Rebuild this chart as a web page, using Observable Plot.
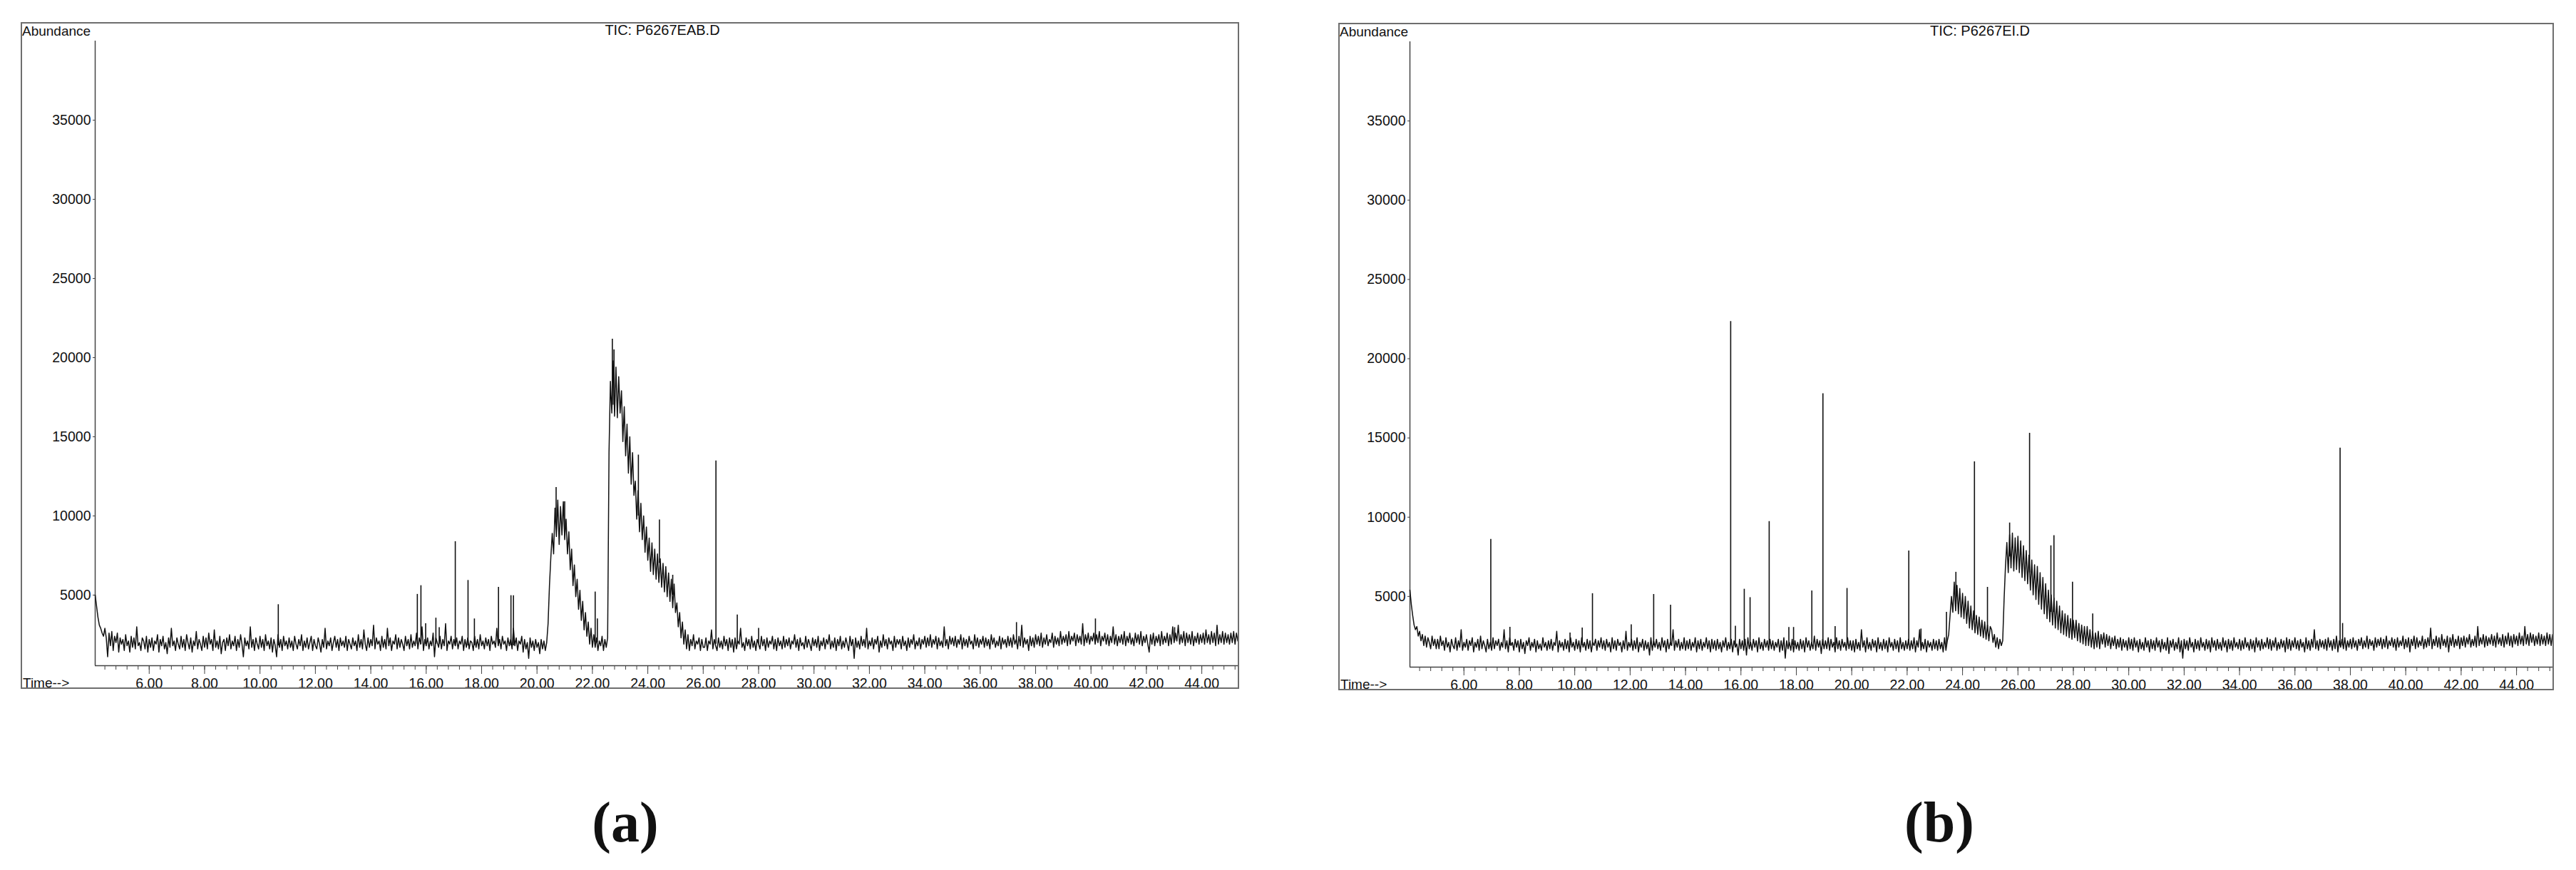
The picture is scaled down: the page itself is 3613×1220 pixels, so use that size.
<!DOCTYPE html>
<html>
<head>
<meta charset="utf-8">
<script src="https://cdn.jsdelivr.net/npm/d3@7"></script>
<script src="https://cdn.jsdelivr.net/npm/@observablehq/plot@0.6"></script>
<style>
  html, body { margin: 0; padding: 0; background: #fff; }
  body { width: 3613px; height: 1220px; position: relative; overflow: hidden;
         font-family: "Liberation Sans", Arial, sans-serif; color: #111; }
  .frame { position: absolute; box-sizing: border-box; border: 2px solid #6e6e6e; }
  .host { position: absolute; }
  .lbl { position: absolute; white-space: nowrap; line-height: 1; }
  .cap { position: absolute; width: 400px; text-align: center; line-height: 1;
         font-family: "Liberation Serif", "Times New Roman", serif; font-weight: bold; font-size: 80px; }
</style>
</head>
<body>
<script>
// ---------------- data ----------------
// sampling grid of the traces (minutes)
const sampleStart = 4.05;
const sampleStep = 0.05;

// x / y axes
const xDomain = [4.05, 45.31];
const yDomain = [540, 40000];
const majorTicks = [6, 8, 10, 12, 14, 16, 18, 20, 22, 24, 26, 28, 30, 32, 34, 36, 38, 40, 42, 44];
const yTicks = [5000, 10000, 15000, 20000, 25000, 30000, 35000];

// Panel (a): TIC: P6267EAB.D – abundance every 0.05 min from 4.05 (one row per minute)
const traceA = [
  5000,4300,3600,3100,2900,2600,2400,2900,2300,1100,2600,1800,2700,1500,2400,2000,2600,1400,2300,1900,
  2200,1500,2500,1800,2100,1400,2400,1700,2300,1600,3000,1800,2000,1500,2300,2100,1600,2400,1400,2200,
  1700,2300,1500,2100,1900,2500,1400,2200,1800,2400,1600,2000,1300,2300,1700,2900,1800,2100,1500,2300,
  1900,1600,2400,1700,2200,1500,2500,2000,1600,2300,1400,2100,1800,2700,1600,2200,1900,1500,2400,1700,
  2300,1600,2600,1900,2200,1500,2800,1700,2100,1600,2400,1300,2000,2200,1500,2300,1800,2500,1600,2100,
  1800,2400,1500,2200,1700,2500,1900,1100,2300,1800,2100,1600,3000,1700,2200,1500,2300,1900,1600,2400,
  1700,2200,1500,2500,1800,2100,1600,2300,1400,2200,1800,1100,2500,1700,2200,1500,2400,1800,2100,1600,
  2300,1700,2100,1500,2400,1900,1600,2200,1800,2500,1500,2100,1700,2300,1600,2000,2400,1500,2200,1800,
  1600,2300,1900,1400,2200,1700,2900,1600,2100,1800,2300,1500,2000,2400,1700,2200,1500,2300,1800,2100,
  1700,2400,1500,2200,1900,1600,2300,1800,2100,1500,2500,1700,2200,1600,2800,1900,1500,2300,1700,2200,
  1800,3100,1600,2300,1900,2100,1500,2400,1700,2200,1600,2900,1800,2300,1500,2100,1900,2500,1600,2300,
  1700,2200,1900,1500,2400,1800,2200,1600,2500,1700,2100,1800,2600,1600,2300,1900,3000,1500,2200,1800,
  2300,1600,2100,1800,2600,1100,2300,2000,1700,2400,1600,2200,1800,3200,1500,2100,1900,2400,1600,2200,
  1800,2300,1600,2100,1900,2400,1500,2200,1700,2300,1600,2100,2000,1500,2400,1700,2200,1600,2500,1800,
  2100,1600,2300,1800,2200,1500,2400,1900,2100,1700,2900,1800,2200,1600,2400,1900,2100,1500,2300,1800,
  2200,1600,2900,1800,2300,1500,2100,1900,2400,1400,2200,1600,2000,1000,2300,1700,2100,1500,2200,1700,
  2000,1300,2200,1600,2100,1500,2000,3200,5600,7400,8900,7600,10500,8700,11000,8200,10600,8800,10900,8500,
  9800,7600,9000,6600,7900,5600,6900,4900,6000,4100,5300,3400,4600,2800,3900,2400,3300,1900,2900,1700,
  2500,1700,2300,1500,2100,1800,2400,1500,2200,1700,2300,14000,18500,16500,19800,16300,19400,16200,18800,16500,
  17900,14700,16900,13800,15800,12700,15000,12000,14000,11300,12200,9800,11600,9000,10800,8500,10000,7700,9300,7200,
  8600,6500,8300,6300,7900,6000,7600,5800,7300,5500,7000,5200,6800,4900,6400,4600,6000,4200,5700,3900,
  4500,3000,3900,2300,3300,1900,2800,1600,2500,1500,2200,1800,2500,1600,2100,1900,2300,1500,2200,1700,
  1700,2300,1500,2100,1900,2800,1600,2200,1800,1500,2300,1700,2100,1600,2400,1800,2200,1500,2300,1700,
  2200,1400,2300,1600,2100,1900,2900,1700,2000,1500,2300,1800,2200,1600,2400,1700,2100,1500,2200,1900,
  1600,2400,1800,2200,1500,2300,1700,2100,1900,2400,1600,2200,1500,2300,1800,2100,1600,2400,1700,2200,
  1800,2300,1600,2100,1900,2500,1700,2200,1500,2300,1800,2000,1600,2400,1700,2200,1900,1500,2300,1800,
  2200,1700,2400,1500,2100,1800,2300,1600,2200,1900,2500,1600,2100,1700,2300,1500,2200,1800,2400,1600,
  2100,1700,2300,1900,1500,2400,1800,2200,1000,2300,1700,2100,1600,2400,1800,2200,1700,2900,1600,2100,
  1800,2300,1600,2200,1900,2400,1400,2100,1700,2500,1800,2200,1600,2300,1900,2100,1500,2400,1700,2200,
  1900,2200,1600,2400,1800,2100,1500,2300,1700,2200,1900,2500,1600,2100,1800,2300,1600,2200,1900,2400,
  1700,2300,1800,2500,1700,2200,1900,2400,1600,2300,1800,2100,1700,3000,1800,2200,1600,2400,1900,2300,
  1800,2400,1700,2200,1900,2500,1600,2300,1800,2200,1700,2400,1900,2100,1600,2500,1800,2300,1700,2200,
  1900,2400,1700,2300,1800,2200,1600,2500,1900,2300,1700,2100,1800,2400,1600,2300,1900,2200,1700,2400,
  1800,2300,1700,2500,1900,2200,1600,2400,1800,3100,1700,2300,1900,2200,1500,2400,1800,2300,1700,2500,
  1900,2400,1800,2600,1700,2300,1900,2500,1800,2200,2000,2600,1700,2400,1900,2300,1800,2700,1900,2400,
  2000,2500,1800,2700,1900,2400,2100,2600,1800,2500,2000,2400,1900,3200,1800,2500,2000,2600,1900,2400,
  2100,2600,1900,2500,2000,2700,1800,2400,2100,2600,1900,2500,1800,2400,2000,3000,1900,2500,1800,2400,
  2000,2500,1900,2700,1800,2400,2000,2600,1900,2300,1800,2600,2000,2500,1900,2700,1800,2400,2000,2500,
  1900,1400,2500,1900,2600,1800,2400,2000,2500,1800,2700,1900,2400,2000,2600,1800,2500,1900,3000,2000,
  2600,2100,3100,1900,2500,2000,2700,1800,2600,2000,2500,1900,2700,1800,2400,2000,2600,1900,2500,2000,
  2600,1900,2800,2000,2500,1900,2700,2000,2600,1800,3100,1900,2500,2000,2700,1900,2600,2000,2500,1900,
  2600,2000,2700,1900,2600,2100
];
// narrow peaks of panel (a): [time, foot, apex]
const spikesA = [
  [10.66, 1800, 4400], [15.68, 1900, 5050], [15.81, 1900, 5600], [15.98, 1900, 3200],
  [16.35, 1900, 3550], [16.47, 1900, 2950], [17.05, 1800, 8380], [17.51, 1800, 5930],
  [17.74, 1800, 3500], [18.61, 1900, 5500], [19.06, 1800, 4970], [19.15, 1800, 4970],
  [20.69, 9500, 11800], [21.00, 9000, 10900], [22.10, 2000, 5200], [22.18, 2000, 3500],
  [22.72, 17000, 21170], [22.78, 17000, 20500], [23.66, 10000, 13850], [24.42, 7000, 9750],
  [24.90, 5000, 6260], [26.46, 1900, 13480], [27.23, 1900, 3750], [28.00, 1900, 2900],
  [37.31, 2000, 3270], [40.16, 2100, 3500], [43.02, 2100, 2950]
];

// Panel (b): TIC: P6267EI.D – abundance every 0.05 min from 4.05 (one row per minute)
const traceB = [
  5400,4500,3800,3200,2900,3100,2500,2800,2200,2600,1900,2500,1800,2400,2100,1700,2500,1900,2300,1700,
  2300,1700,2500,1900,2200,1600,2400,1800,2100,1500,2300,1900,1700,2400,1600,2200,1800,2900,1600,2100,
  1800,2300,1600,2200,1900,2400,1500,2100,1800,2300,1600,2500,1700,2200,1900,1500,2300,1700,2100,1600,
  2400,1700,2200,1900,2300,1600,2100,1800,2900,1700,2200,1500,2400,1900,2100,1600,2300,1800,2200,1500,
  2300,1700,2100,1400,2200,1900,2400,1600,2100,1800,2300,1500,2200,1700,2000,1600,2400,1800,2100,1600,
  2200,1700,2300,1600,2100,1900,2800,1500,2200,1800,2100,1600,2300,1700,2200,1500,2400,1800,2100,1600,
  2300,1700,2200,1500,2400,1800,2100,1600,2300,1700,2200,1500,2100,1900,2300,1600,2200,1800,2400,1700,
  2200,1600,2300,1800,2100,1500,2400,1700,2200,1600,2300,1900,2100,1500,2200,1700,2800,1600,2100,1800,
  2300,1600,2200,1700,2400,1500,2100,1800,2300,1600,2200,1700,2100,1300,2400,1600,2200,1800,2300,1700,
  2100,1600,2400,1800,2200,1500,2300,1700,2100,1900,2900,1600,2200,1800,2300,1600,2100,1700,2400,1600,
  2200,1700,2300,1600,2100,1800,2400,1500,2200,1700,2300,1600,2100,1800,2400,1700,2200,1500,2300,1700,
  2200,1600,2300,1700,2100,1500,2200,1800,2400,1600,2100,1700,2300,1500,2200,1800,2000,1300,2300,1700,
  2200,1600,2300,1300,2400,1700,2100,1600,2300,1800,2200,1500,2400,1700,2100,1600,2300,1800,2200,1600,
  2300,1700,2200,1600,2100,1800,2300,1500,2200,1600,2400,1100,2200,1700,2100,1600,2300,1500,2200,1700,
  2100,1600,2300,1700,2200,1500,2400,1800,2200,1600,2100,1700,2500,1600,2300,1800,2200,1400,2300,1700,
  2200,1700,2400,1600,2300,1800,2100,1500,2400,1700,2200,1600,2300,1800,2100,1600,2400,1700,2200,1600,
  2200,1500,2300,1700,2100,1600,2900,1800,2200,1500,2400,1700,2100,1600,2300,1800,2200,1500,2400,1700,
  2100,1600,2300,1700,2200,1500,2400,1800,2100,1600,2300,1700,2200,1500,2400,1700,2100,1600,2200,1700,
  2300,1600,2200,1700,2400,1500,2200,1800,2900,1600,2100,1700,2300,1500,2200,1800,2100,1600,2300,1700,
  2200,1600,2300,1700,2100,1500,2400,1600,2200,2600,3800,5000,4000,5900,4100,5700,3900,5500,3700,5200,
  3600,5000,3300,4700,3000,4400,2900,4100,2700,3800,2600,3700,2500,3500,2400,3400,2300,3200,2200,3100,
  2900,2100,2600,1800,2400,1700,2300,1900,2200,4800,6900,8400,6500,8900,6800,9000,6600,8700,6700,8800,
  6500,8500,6200,8200,6000,7900,5800,7600,5400,7300,5100,7000,4800,6900,4500,6500,4200,6200,3900,5800,
  3600,5400,3400,5100,3200,4900,3000,4700,2900,4400,2700,4100,2600,3900,2500,3800,2400,3600,2300,3500,
  2400,3500,2200,3300,2100,3200,2000,3100,1900,3100,1900,2900,1800,2800,1700,2700,1800,2800,1700,2600,
  2000,2700,1800,2600,1900,2500,1700,2400,1900,2500,1700,2300,1800,2400,1600,2300,1800,2200,1600,2400,
  1700,2300,1600,2400,1800,2200,1500,2300,1700,2100,1600,2400,1800,2200,1500,2300,1700,2200,1600,2400,
  1800,2200,1500,2300,1700,2100,1600,2400,1400,2200,1800,2300,1600,2100,1700,2400,1500,2200,1100,2300,
  1700,2200,1600,2400,1800,2100,1500,2300,1700,2200,1600,2400,1800,2100,1600,2300,1700,2200,1500,2400,
  1800,2200,1600,2300,1700,2100,1600,2400,1800,2200,1500,2300,1700,2200,1600,2400,1800,2100,1700,2300,
  1600,2200,1700,2400,1800,2100,1600,2300,1700,2200,1500,2400,1800,2200,1600,2300,1700,2100,1800,2400,
  1700,2300,1600,2200,1800,2400,1600,2100,1700,2300,1800,2200,1500,2400,1700,2300,1600,2200,1800,2400,
  1700,2200,1600,2300,1800,2100,1500,2400,1700,2200,1600,2300,1800,2900,1700,2200,1600,2300,1800,2200,
  1700,2300,1600,2400,1800,2200,1600,2300,1700,2500,1500,2200,1800,2300,1700,2400,1600,2200,1800,2300,
  1700,2400,1800,2200,1600,2300,1900,2400,1700,2200,1800,2500,1700,2300,1900,2200,1600,2400,1800,2300,
  1900,2400,1700,2300,1800,2500,1700,2200,1900,2400,1800,2300,1600,2400,1800,2200,1900,2500,1700,2300,
  1800,2400,1500,2300,1900,2500,1700,2400,1800,2200,1900,2500,1700,2300,1800,2400,1900,3000,1700,2300,
  1900,2500,1800,2400,1700,2600,1900,2300,1800,2500,1500,2400,1900,2600,1800,2300,1900,2500,1700,2400,
  1900,2500,1800,2400,2000,2600,1800,2300,1900,2500,1800,3100,1900,2400,2000,2600,1800,2500,1900,2400,
  2000,2600,1900,2500,1800,2700,2000,2400,1900,2600,1800,2500,2000,2700,1900,2500,1800,2600,2000,2500,
  1900,2700,2000,2500,1900,3100,2000,2600,1900,2700,2100,2600,1900,2500,2000,2700,1900,2600,2000,2500,
  1900,2700,2000,2600,1900,2600
];
// narrow peaks of panel (b): [time, foot, apex]
const spikesB = [
  [6.97, 1900, 8600], [7.66, 1900, 3060], [9.83, 1900, 2700], [10.27, 1900, 3020],
  [10.64, 1900, 5180], [12.04, 1900, 3220], [12.85, 1900, 5130], [13.46, 1900, 4450],
  [15.63, 1900, 22350], [15.80, 1900, 3130], [16.12, 1900, 5460], [16.33, 1900, 4930],
  [17.02, 1900, 9730], [17.73, 1900, 3050], [17.90, 1900, 3050], [18.56, 1900, 5350],
  [18.96, 1900, 17800], [19.40, 1900, 3100], [19.83, 1900, 5510], [22.06, 1900, 7875],
  [22.50, 1900, 2950], [23.42, 1900, 4000], [23.76, 4500, 6530], [24.43, 3500, 13500],
  [24.90, 2800, 5580], [25.70, 7500, 9640], [26.42, 6500, 15300], [27.19, 4000, 8200],
  [27.30, 4000, 8840], [27.97, 2800, 5900], [28.70, 2300, 3900], [37.63, 1900, 14370],
  [37.72, 1900, 3300]
];

const panels = [
  { id: "a", title: "TIC: P6267EAB.D", trace: traceA, spikes: spikesA },
  { id: "b", title: "TIC: P6267EI.D",  trace: traceB, spikes: spikesB }
];

// ---------------- layout ----------------
const layout = {
  a: { left: 29,   top: 31, width: 1709, height: 935, marginLeft: 104, capX: 877 },
  b: { left: 1877, top: 32, width: 1705, height: 936, marginLeft: 100, capX: 2720 }
};
const minorTicks = d3.range(4.4, 45.31, 0.4).map(d => Math.round(d * 10) / 10);
const fontStack = "'Liberation Sans', Arial, sans-serif";

function el(tag, cls, css, text) {
  const e = document.createElement(tag);
  if (cls) e.className = cls;
  Object.assign(e.style, css);
  if (text != null) e.textContent = text;
  document.body.appendChild(e);
  return e;
}

for (const p of panels) {
  const L = layout[p.id];
  const series = p.trace.map((v, i) => ({ t: sampleStart + i * sampleStep, v }));
  const peaks = p.spikes.map(([t, b, h]) => ({ t, b, h }));

  const chart = Plot.plot({
    width: L.width,
    height: L.height,
    marginTop: 26,
    marginBottom: 33,
    marginLeft: L.marginLeft,
    marginRight: 2,
    style: { background: "none", fontFamily: fontStack, fontSize: "19.5px", color: "#111", overflow: "visible" },
    x: { domain: xDomain, label: null },
    y: { domain: yDomain, label: null },
    marks: [
      Plot.axisY({ ticks: yTicks, tickFormat: d => String(d), tickSize: 3, tickPadding: 3, label: null, stroke: "#444" }),
      Plot.axisX({ ticks: minorTicks, tickSize: 6, tickFormat: () => "", label: null, stroke: "#444" }),
      Plot.axisX({ ticks: majorTicks, tickSize: 12, tickPadding: 6, tickFormat: d => d.toFixed(2), label: null, stroke: "#444" }),
      Plot.ruleX([xDomain[0]], { stroke: "#444", strokeWidth: 1.5 }),
      Plot.ruleY([yDomain[0]], { stroke: "#444", strokeWidth: 1.5 }),
      Plot.line(series, { x: "t", y: "v", stroke: "#111", strokeWidth: 1.5 }),
      Plot.ruleX(peaks, { x: "t", y1: "b", y2: "h", stroke: "#111", strokeWidth: 1.6 })
    ]
  });

  const host = el("div", "host", { left: L.left + "px", top: L.top + "px", width: L.width + "px", height: L.height + "px" });
  host.appendChild(chart);
  el("div", "frame", { left: L.left + "px", top: L.top + "px", width: L.width + "px", height: L.height + "px" });

  el("div", "lbl", { left: (L.left + 2) + "px", top: (L.top + 3) + "px", fontSize: "19px" }, "Abundance");
  el("div", "lbl", { left: (L.left + 900 - 300) + "px", width: "600px", textAlign: "center",
                     top: (L.top + 1) + "px", fontSize: "20px" }, p.title);
  el("div", "lbl", { left: (L.left + 3) + "px", top: (L.top + L.height - 18) + "px", fontSize: "19px" }, "Time-->");
  el("div", "cap", { left: (L.capX - 200) + "px", top: "1113px" }, "(" + p.id + ")");
}
</script>
</body>
</html>
